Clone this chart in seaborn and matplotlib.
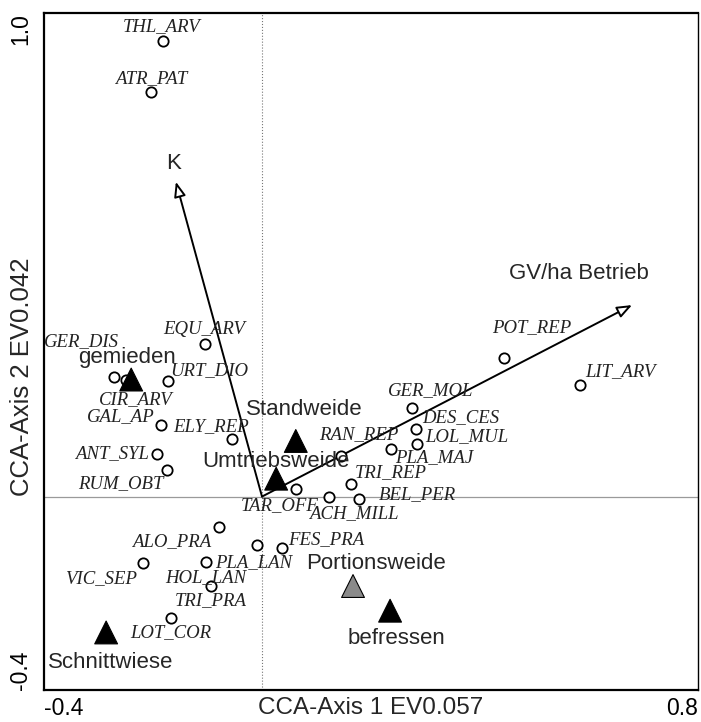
"""
CCA ordination biplot: species, management groups and environmental arrows
"""
import pandas as pd
import matplotlib
matplotlib.use('Agg')
import matplotlib.pyplot as plt
import seaborn as sns

# species scores
species = ['THL_ARV', 'ATR_PAT', 'EQU_ARV', 'GER_DIS', 'CIR_ARV', 'URT_DIO',
           'GAL_AP', 'ELY_REP', 'ANT_SYL', 'RUM_OBT', 'TAR_OFF', 'RAN_REP',
           'GER_MOL', 'DES_CES', 'LOL_MUL', 'PLA_MAJ', 'TRI_REP', 'BEL_PER',
           'ACH_MILL', 'POT_REP', 'LIT_ARV', 'ALO_PRA', 'PLA_LAN', 'FES_PRA',
           'VIC_SEP', 'HOL_LAN', 'TRI_PRA', 'LOT_COR']
species_x = [-0.182, -0.204, -0.105, -0.272, -0.250, -0.172,
             -0.185, -0.055, -0.193, -0.174, 0.062, 0.145,
             0.275, 0.283, 0.284, 0.237, 0.163, 0.178,
             0.123, 0.444, 0.583, -0.079, -0.009, 0.037,
             -0.218, -0.103, -0.094, -0.167]
species_y = [0.943, 0.836, 0.316, 0.248, 0.242, 0.238,
             0.148, 0.119, 0.088, 0.055, 0.016, 0.084,
             0.183, 0.140, 0.109, 0.099, 0.027, -0.006,
             0.000, 0.287, 0.230, -0.062, -0.101, -0.107,
             -0.138, -0.136, -0.185, -0.251]

# group (nominal variable) centroids
groups = ['gemieden', 'Standweide', 'Umtriebsweide', 'Portionsweide',
          'befressen', 'Schnittwiese']
group_x = [-0.240, 0.062, 0.026, 0.167, 0.235, -0.286]
group_y = [0.242, 0.115, 0.037, -0.185, -0.236, -0.281]

# environmental arrows
env_vars = ['K', 'GV/ha Betrieb']
env_x = [-0.158, 0.679]
env_y = [0.651, 0.396]

# label placement, offsets in pixels (label centre relative to the marker)
species_offsets = {
    'THL_ARV': (-1, -14), 'ATR_PAT': (0, -14), 'EQU_ARV': (-1, -14),
    'GER_DIS': (-32, -35), 'CIR_ARV': (10, 20), 'URT_DIO': (41, -11),
    'GAL_AP': (-40, -8), 'ELY_REP': (-21, -12), 'ANT_SYL': (-45, 0),
    'RUM_OBT': (-46, 14), 'TAR_OFF': (-16, 17), 'RAN_REP': (18, -21),
    'GER_MOL': (19, -17), 'DES_CES': (45, -11), 'LOL_MUL': (50, -7),
    'PLA_MAJ': (43, 9), 'TRI_REP': (40, -11), 'BEL_PER': (58, -5),
    'ACH_MILL': (25, 17), 'POT_REP': (28, -30), 'LIT_ARV': (41, -14),
    'ALO_PRA': (-47, 15), 'PLA_LAN': (-3, 17), 'FES_PRA': (44, -9),
    'VIC_SEP': (-42, 15), 'HOL_LAN': (0, 15), 'TRI_PRA': (0, 15),
    'LOT_COR': (0, 15),
}
group_offsets = {
    'gemieden': (-4, -22), 'Standweide': (8, -31), 'Umtriebsweide': (0, -17),
    'Portionsweide': (23, -23), 'befressen': (6, 28), 'Schnittwiese': (5, 30),
}
env_offsets = {'K': (-2, -18), 'GV/ha Betrieb': (-53, -32)}
group_colors = {g: 'black' for g in groups}
group_colors['Portionsweide'] = '#8a8a8a'

sns.set_style('white')
plt.rcParams['font.family'] = ['Liberation Sans', 'DejaVu Sans']

df_sp = pd.DataFrame({'name': species, 'x': species_x, 'y': species_y})
df_grp = pd.DataFrame({'group': groups, 'x': group_x, 'y': group_y})

fig = plt.figure(figsize=(7.01, 7.22), dpi=100)
ax = fig.add_axes([44 / 701, 32 / 722, 654 / 701, 677 / 722])

ax.axhline(0, color='#9a9a9a', lw=0.9, zorder=1)
ax.axvline(0, color='#777777', lw=0.8, ls=':', zorder=1)

# arrows from the origin
for name, x, y in zip(env_vars, env_x, env_y):
    ax.annotate('', xy=(x, y), xytext=(0, 0),
                arrowprops=dict(arrowstyle='-|>,head_length=0.9,head_width=0.35',
                                fc='white', ec='black', lw=1.4,
                                shrinkA=0, shrinkB=0),
                zorder=2)
    dx, dy = env_offsets[name]
    ax.annotate(name, (x, y), xytext=(dx, -dy), textcoords='offset pixels',
                ha='center', va='center', fontsize=16, zorder=5)

sns.scatterplot(data=df_sp, x='x', y='y', marker='o', s=55, color='white',
                edgecolor='black', linewidth=1.3, ax=ax, zorder=3)
sns.scatterplot(data=df_grp, x='x', y='y', hue='group', palette=group_colors,
                marker='^', s=270, edgecolor='black', linewidth=0.8,
                legend=False, ax=ax, zorder=4)

for name, x, y in zip(species, species_x, species_y):
    dx, dy = species_offsets[name]
    ax.annotate(name, (x, y), xytext=(dx, -dy), textcoords='offset pixels',
                ha='center', va='center', fontsize=13.5, style='italic',
                family=['Liberation Serif', 'DejaVu Serif'], color='#222222',
                zorder=5)

for name, x, y in zip(groups, group_x, group_y):
    dx, dy = group_offsets[name]
    ax.annotate(name, (x, y), xytext=(dx, -dy), textcoords='offset pixels',
                ha='center', va='center', fontsize=16, zorder=6)

ax.set_xlim(-0.4, 0.8)
ax.set_ylim(-0.4, 1.0)

xt = [-0.4, -0.2, 0.0, 0.2, 0.4, 0.6, 0.8]
yt = [-0.4, -0.2, 0.0, 0.2, 0.4, 0.6, 0.8, 1.0]
ax.set_xticks(xt)
ax.set_xticklabels(['-0.4', '', '', '', '', '', '0.8'])
ax.set_yticks(yt)
ax.set_yticklabels(['-0.4', '', '', '', '', '', '', '1.0'])
ax.tick_params(axis='both', direction='inout', length=7, width=1.2,
               labelsize=16.5, colors='black')
ax.tick_params(axis='x', pad=1.5)
ax.tick_params(axis='y', pad=5, labelrotation=90)
xl = ax.get_xticklabels()
xl[0].set_ha('left')
xl[-1].set_ha('right')
yl = ax.get_yticklabels()
yl[0].set_va('bottom')
yl[-1].set_va('top')

ax.set_xlabel('CCA-Axis 1 EV0.057', fontsize=17.5)
ax.set_ylabel('CCA-Axis 2 EV0.042', fontsize=18.5)
ax.xaxis.set_label_coords(0.5, -0.026, transform=ax.transAxes)
ax.yaxis.set_label_coords(-0.034, 0.462, transform=ax.transAxes)
ax.xaxis.label.set_va('center')
ax.yaxis.label.set_va('center')

for side in ['left', 'bottom', 'top', 'right']:
    ax.spines[side].set_color('black')
    ax.spines[side].set_linewidth(1.6)
ax.spines['right'].set_linewidth(1.0)

plt.savefig('out.png', dpi=100)
plt.close()
